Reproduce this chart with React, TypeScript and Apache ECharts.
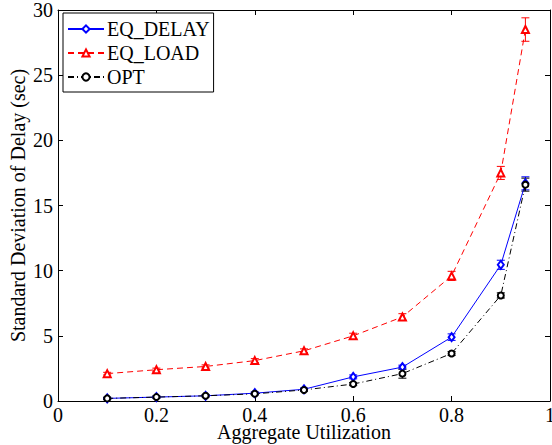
import React, { useEffect, useRef } from "react";
import * as echarts from "echarts";

const xs = [0.1, 0.2, 0.3, 0.4, 0.5, 0.6, 0.7, 0.8, 0.9, 0.95];
const eqDelay = [0.2, 0.3, 0.4, 0.6, 0.9, 1.85, 2.6, 4.9, 10.45, 16.7];
const eqDelayErr = [0.08, 0.08, 0.08, 0.1, 0.1, 0.15, 0.15, 0.25, 0.35, 0.5];
const eqLoad = [2.1, 2.4, 2.65, 3.1, 3.85, 5.0, 6.45, 9.6, 17.5, 28.5];
const eqLoadErr = [0.1, 0.12, 0.12, 0.15, 0.15, 0.2, 0.25, 0.35, 0.5, 0.9];
const opt = [0.2, 0.3, 0.4, 0.55, 0.85, 1.3, 2.1, 3.65, 8.1, 16.6];
const optErr = [0.08, 0.08, 0.08, 0.08, 0.1, 0.12, 0.35, 0.15, 0.2, 0.5];
const xTicks = [0, 0.2, 0.4, 0.6, 0.8, 1];

const FONT = "Liberation Serif";

function errSeries(name: string, vals: number[], errs: number[], color: string) {
  return {
    type: "custom",
    name,
    silent: true,
    z: 3,
    data: xs.map((x, i) => [x, vals[i] - errs[i], vals[i] + errs[i]]),
    renderItem: (params: any, api: any) => {
      const x = api.value(0);
      const p1 = api.coord([x, api.value(1)]);
      const p2 = api.coord([x, api.value(2)]);
      const w = 4;
      const st = { stroke: color, lineWidth: 1 };
      return {
        type: "group",
        children: [
          { type: "line", shape: { x1: p1[0], y1: p1[1], x2: p2[0], y2: p2[1] }, style: st },
          { type: "line", shape: { x1: p1[0] - w, y1: p1[1], x2: p1[0] + w, y2: p1[1] }, style: st },
          { type: "line", shape: { x1: p2[0] - w, y1: p2[1], x2: p2[0] + w, y2: p2[1] }, style: st },
        ],
      };
    },
  };
}

export default function App() {
  const ref = useRef<HTMLDivElement>(null);
  useEffect(() => {
    if (!ref.current) return;
    const chart = echarts.init(ref.current, undefined, { renderer: "svg" });
    const tickStyle = { show: true, inside: true, length: 5, lineStyle: { color: "#000", width: 1 } };
    const axisLine = { show: true, onZero: false, lineStyle: { color: "#000", width: 1 } };
    const labelStyle = { color: "#000", fontFamily: FONT, fontSize: 20 };
    chart.setOption({
      animation: false,
      backgroundColor: "#fff",
      grid: { left: 58, right: 2, top: 10, bottom: 44, containLabel: false, outerBoundsMode: "none" },
      legend: {
        data: ["EQ_DELAY", "EQ_LOAD", "OPT"],
        orient: "vertical",
        left: 63,
        top: 13,
        itemWidth: 36,
        itemHeight: 9,
        itemGap: 4,
        padding: [6, 4, 5, 4],
        borderColor: "#000",
        borderWidth: 1,
        backgroundColor: "#fff",
        textStyle: { color: "#000", fontFamily: FONT, fontSize: 20, lineHeight: 20, padding: [0, 0, 0, -2] },
      },
      xAxis: [
        {
          type: "value",
          min: 0,
          max: 1,
          interval: 0.2,
          axisLine,
          axisTick: tickStyle,
          splitLine: { show: false },
          axisLabel: {
            ...labelStyle,
            lineHeight: 14,
            margin: 7,
            formatter: (v: number) => {
              const t = xTicks.find((k) => Math.abs(k - v) < 1e-9);
              return t === undefined ? "" : t === 0 || t === 1 ? String(t) : t.toFixed(1);
            },
          },
          name: "Aggregate Utilization",
          nameLocation: "middle",
          nameGap: 24,
          nameMoveOverlap: false,
          nameTextStyle: { ...labelStyle, lineHeight: 14 },
        },
        {
          type: "value",
          position: "top",
          min: 0,
          max: 1,
          interval: 0.2,
          axisLine,
          axisTick: tickStyle,
          axisLabel: { show: false },
          splitLine: { show: false },
        },
      ],
      yAxis: [
        {
          type: "value",
          min: 0,
          max: 30,
          interval: 5,
          axisLine,
          axisTick: tickStyle,
          splitLine: { show: false },
          axisLabel: { ...labelStyle, margin: 5 },
          name: "Standard Deviation of Delay (sec)",
          nameLocation: "middle",
          nameGap: 30,
          nameMoveOverlap: false,
          nameTextStyle: labelStyle,
        },
        {
          type: "value",
          position: "right",
          min: 0,
          max: 30,
          interval: 5,
          axisLine,
          axisTick: tickStyle,
          axisLabel: { show: false },
          splitLine: { show: false },
        },
      ],
      series: [
        errSeries("errDelay", eqDelay, eqDelayErr, "#0000ff"),
        errSeries("errLoad", eqLoad, eqLoadErr, "#ff0000"),
        errSeries("errOpt", opt, optErr, "#000000"),
        {
          type: "line",
          name: "EQ_DELAY",
          data: xs.map((x, i) => [x, eqDelay[i]]),
          symbol: "emptyDiamond",
          symbolSize: [6, 8],
          lineStyle: { color: "#0000ff", width: 1 },
          itemStyle: { color: "#0000ff", borderColor: "#0000ff", borderWidth: 0.8 },
          z: 4,
        },
        {
          type: "line",
          name: "EQ_LOAD",
          data: xs.map((x, i) => [x, eqLoad[i]]),
          symbol: "emptyTriangle",
          symbolSize: 7,
          lineStyle: { color: "#ff0000", width: 1, type: [6, 4] },
          itemStyle: { color: "#ff0000", borderColor: "#ff0000", borderWidth: 0.8 },
          z: 4,
        },
        {
          type: "line",
          name: "OPT",
          data: xs.map((x, i) => [x, opt[i]]),
          symbol: "emptyCircle",
          symbolSize: 6,
          lineStyle: { color: "#000000", width: 1, type: [6, 3, 1, 3] },
          itemStyle: { color: "#000000", borderColor: "#000000", borderWidth: 0.8 },
          z: 5,
        },
      ],
    });
    return () => chart.dispose();
  }, []);
  return <div ref={ref} style={{ width: 552, height: 445, position: "absolute", left: 0, top: 0 }} />;
}
